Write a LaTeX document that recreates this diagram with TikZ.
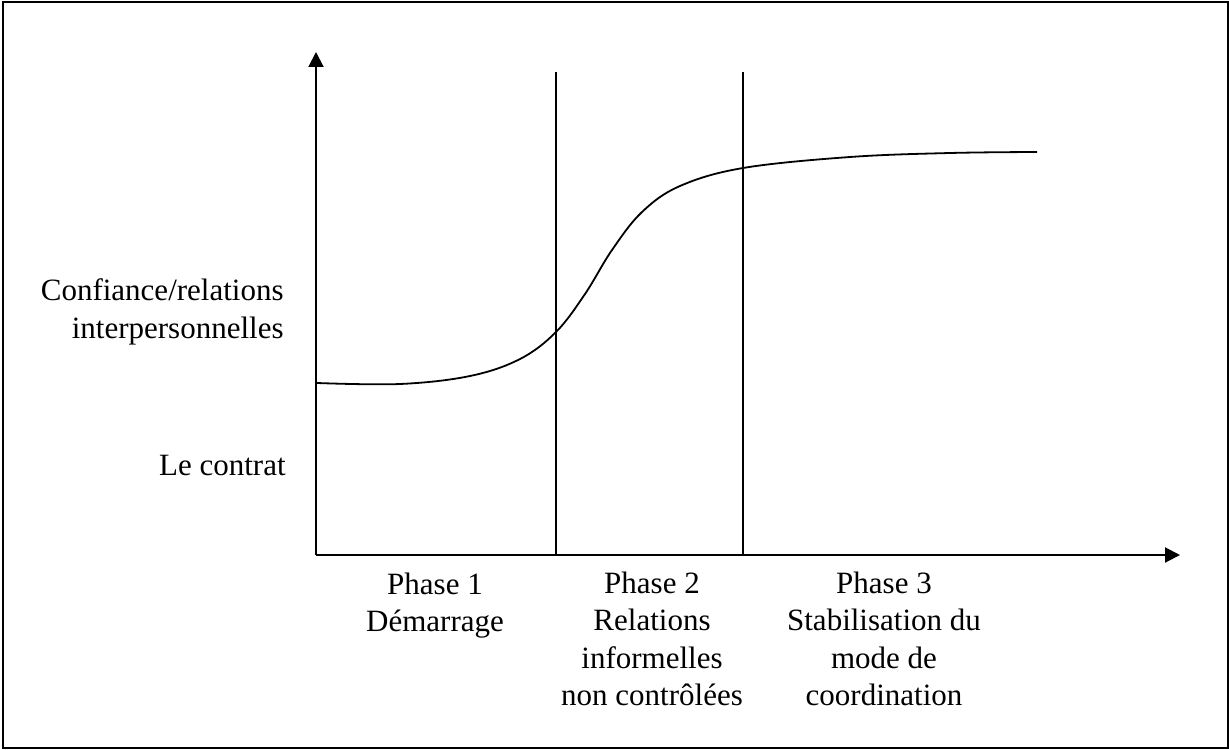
\documentclass[tikz,border=0pt]{standalone}
\usepackage{fontspec}
\setmainfont{Liberation Serif}
\usetikzlibrary{arrows.meta}
\begin{document}
\begin{tikzpicture}[x=0.5pt,y=-0.5pt,
  lbl/.style={inner sep=0pt,font=\fontsize{15.5}{18.75}\selectfont},
  axis/.style={line width=1pt,-{Triangle[length=7.5pt,width=7.5pt]}},
  phaseline/.style={line width=0.75pt},
  curve/.style={line width=0.9pt}]
\useasboundingbox (0,0) rectangle (1229,749);
\draw[line width=1pt] (3,2) rectangle (1227.5,747.5);
% axes
\coordinate (O) at (316,555);
\coordinate (ytop) at (316,52);
\coordinate (xend) at (1180,555);
\draw[axis] (O) -- (ytop);
\draw[axis] (O) -- (xend);
% phase separators
\coordinate (s1t) at (556,72);
\coordinate (s1b) at (556,555);
\coordinate (s2t) at (743,72);
\coordinate (s2b) at (743,555);
\draw[phaseline] (s1b) -- (s1t);
\draw[phaseline] (s2b) -- (s2t);
% curve
\draw[curve] plot[smooth,tension=0.6] coordinates {(317,383) (400,384) (470,376) (520,359) (556,332) (585,294) (612,250) (642,212) (680,186) (743,168) (850,157) (950,153) (1037,152)};
% labels
\node[lbl,align=right,anchor=base east] (conf) at (284,338) {Confiance/relations\\interpersonnelles};
\node[lbl,anchor=base east] (contrat) at (286,475) {Le contrat};
\node[lbl,align=center,anchor=base] (p1) at (435,631.5) {Phase 1\\Démarrage};
\node[lbl,align=center,anchor=base] (p2) at (652,705.5) {Phase 2\\Relations\\informelles\\non contrôlées};
\node[lbl,align=center,anchor=base] (p3) at (884,705.5) {Phase 3\\Stabilisation du\\mode de\\coordination};
\end{tikzpicture}
\end{document}
